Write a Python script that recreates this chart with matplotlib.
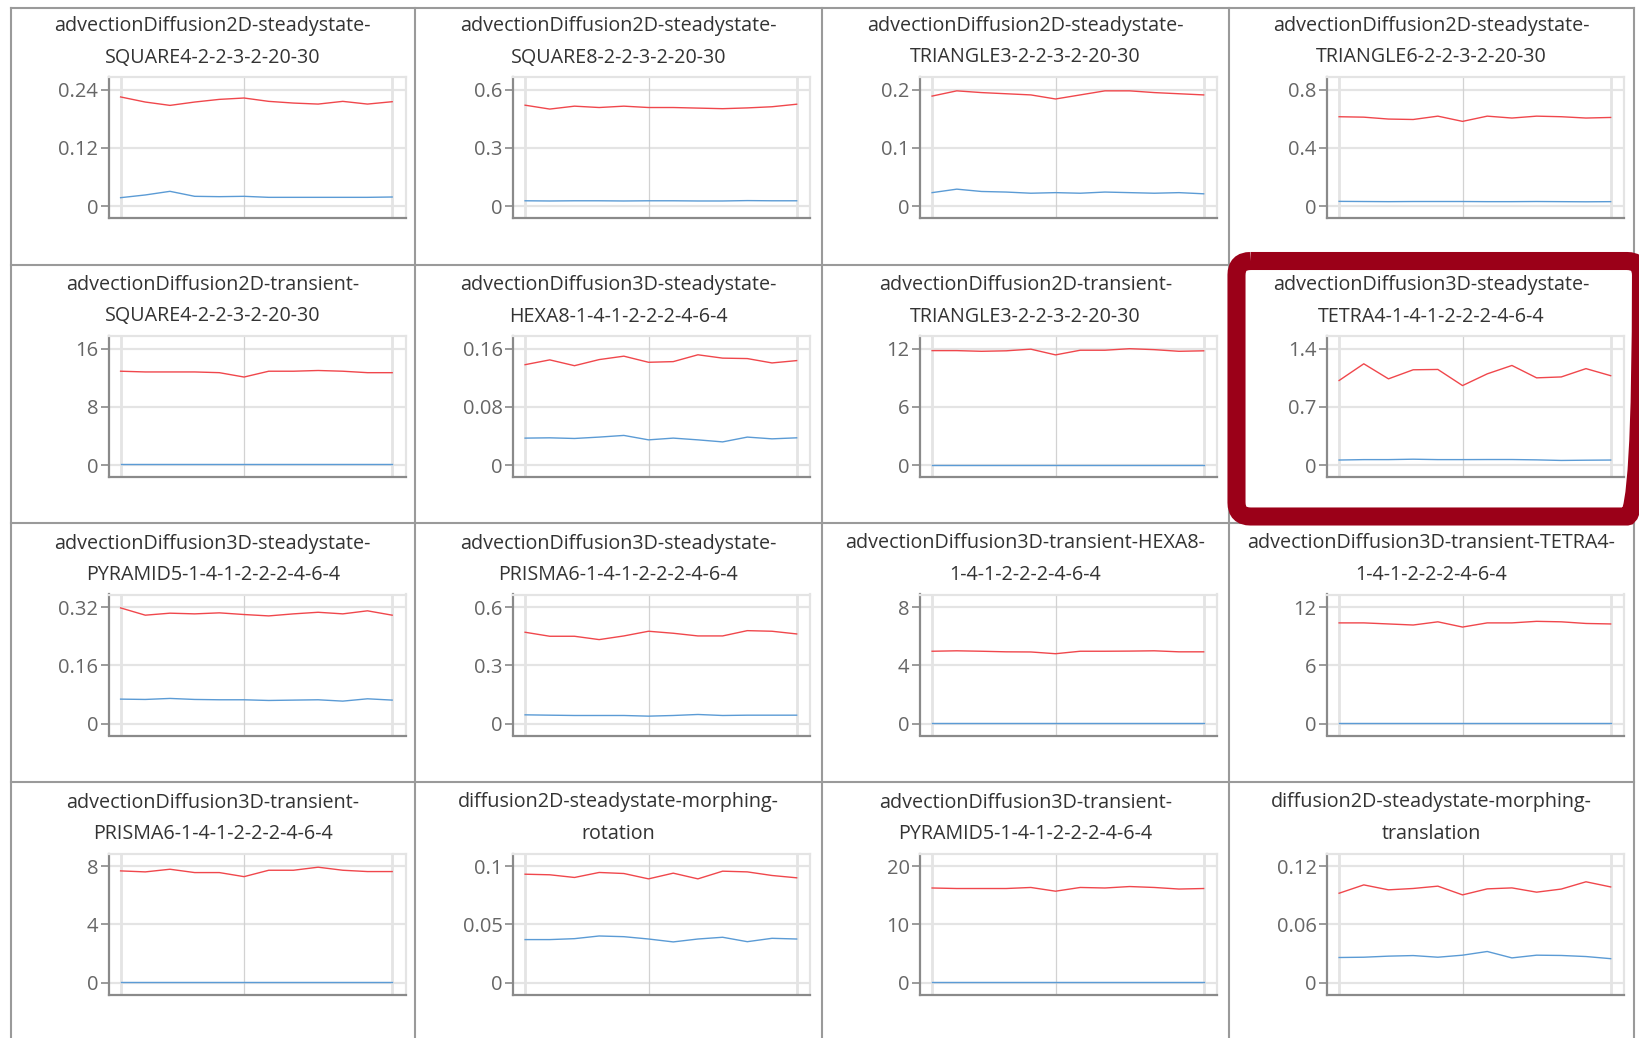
import matplotlib
matplotlib.use("Agg")
import matplotlib.pyplot as plt
from matplotlib.patches import FancyBboxPatch

plt.rcParams['font.family'] = ['Open Sans', 'DejaVu Sans']

W, H = 1639, 1038

# chart titles, row by row (two lines each, as wrapped in the picture)
titles = [
    ("advectionDiffusion2D-steadystate-", "SQUARE4-2-2-3-2-20-30"),
    ("advectionDiffusion2D-steadystate-", "SQUARE8-2-2-3-2-20-30"),
    ("advectionDiffusion2D-steadystate-", "TRIANGLE3-2-2-3-2-20-30"),
    ("advectionDiffusion2D-steadystate-", "TRIANGLE6-2-2-3-2-20-30"),
    ("advectionDiffusion2D-transient-", "SQUARE4-2-2-3-2-20-30"),
    ("advectionDiffusion3D-steadystate-", "HEXA8-1-4-1-2-2-2-4-6-4"),
    ("advectionDiffusion2D-transient-", "TRIANGLE3-2-2-3-2-20-30"),
    ("advectionDiffusion3D-steadystate-", "TETRA4-1-4-1-2-2-2-4-6-4"),
    ("advectionDiffusion3D-steadystate-", "PYRAMID5-1-4-1-2-2-2-4-6-4"),
    ("advectionDiffusion3D-steadystate-", "PRISMA6-1-4-1-2-2-2-4-6-4"),
    ("advectionDiffusion3D-transient-HEXA8-", "1-4-1-2-2-2-4-6-4"),
    ("advectionDiffusion3D-transient-TETRA4-", "1-4-1-2-2-2-4-6-4"),
    ("advectionDiffusion3D-transient-", "PRISMA6-1-4-1-2-2-2-4-6-4"),
    ("diffusion2D-steadystate-morphing-", "rotation"),
    ("advectionDiffusion3D-transient-", "PYRAMID5-1-4-1-2-2-2-4-6-4"),
    ("diffusion2D-steadystate-morphing-", "translation"),
]

# top tick value of each chart (ticks are 0, half, top)
ymax = [0.24, 0.6, 0.2, 0.8,
        16, 0.16, 12, 1.4,
        0.32, 0.6, 8, 12,
        8, 0.1, 20, 0.12]

red = [
    [0.225, 0.2145, 0.2076, 0.2145, 0.220, 0.2228, 0.2159, 0.2124, 0.2103, 0.2159, 0.2103, 0.2152],
    [0.52, 0.50, 0.515, 0.508, 0.515, 0.508, 0.508, 0.505, 0.502, 0.506, 0.512, 0.525],
    [0.189, 0.198, 0.195, 0.193, 0.191, 0.184, 0.191, 0.198, 0.198, 0.195, 0.193, 0.191],
    [0.614, 0.611, 0.598, 0.595, 0.618, 0.582, 0.618, 0.605, 0.618, 0.614, 0.605, 0.609],
    [12.9, 12.8, 12.8, 12.8, 12.7, 12.1, 12.9, 12.9, 13.0, 12.9, 12.7, 12.7],
    [0.138, 0.1446, 0.1366, 0.145, 0.1497, 0.1413, 0.1422, 0.1516, 0.147, 0.1464, 0.1404, 0.1436],
    [11.8, 11.8, 11.73, 11.78, 11.95, 11.36, 11.84, 11.84, 12.0, 11.9, 11.73, 11.78],
    [1.017, 1.218, 1.037, 1.146, 1.15, 0.956, 1.097, 1.198, 1.049, 1.06, 1.16, 1.075],
    [0.318, 0.298, 0.3035, 0.3016, 0.3044, 0.2998, 0.296, 0.3016, 0.306, 0.3016, 0.31, 0.298],
    [0.4707, 0.45, 0.45, 0.4328, 0.4517, 0.4759, 0.4655, 0.4517, 0.4517, 0.479, 0.4759, 0.462],
    [4.97, 5.0, 4.97, 4.93, 4.92, 4.8, 4.97, 4.97, 4.98, 5.0, 4.93, 4.93],
    [10.38, 10.38, 10.27, 10.16, 10.49, 9.95, 10.38, 10.38, 10.54, 10.49, 10.32, 10.27],
    [7.676, 7.607, 7.79, 7.56, 7.56, 7.28, 7.72, 7.72, 7.93, 7.72, 7.63, 7.63],
    [0.0931, 0.0926, 0.0903, 0.0946, 0.0937, 0.0891, 0.094, 0.0891, 0.0957, 0.0951, 0.092, 0.090],
    [16.25, 16.16, 16.16, 16.16, 16.34, 15.7, 16.34, 16.25, 16.5, 16.34, 16.07, 16.16],
    [0.0921, 0.1007, 0.0956, 0.097, 0.0994, 0.0904, 0.0966, 0.0976, 0.0932, 0.0964, 0.1039, 0.0986],
]

blue = [
    [0.0172, 0.0228, 0.0303, 0.020, 0.0193, 0.020, 0.0179, 0.0179, 0.0179, 0.0179, 0.0179, 0.0186],
    [0.027, 0.026, 0.027, 0.027, 0.026, 0.027, 0.027, 0.026, 0.026, 0.028, 0.027, 0.027],
    [0.023, 0.029, 0.025, 0.024, 0.022, 0.023, 0.022, 0.024, 0.023, 0.022, 0.023, 0.021],
    [0.032, 0.031, 0.030, 0.031, 0.031, 0.031, 0.030, 0.030, 0.031, 0.030, 0.029, 0.030],
    [0.1, 0.1, 0.1, 0.1, 0.1, 0.1, 0.1, 0.1, 0.1, 0.1, 0.1, 0.1],
    [0.037, 0.0374, 0.0365, 0.0384, 0.0407, 0.0346, 0.037, 0.0346, 0.0318, 0.0384, 0.036, 0.0374],
    [0.05, 0.05, 0.05, 0.05, 0.05, 0.05, 0.05, 0.05, 0.05, 0.05, 0.05, 0.05],
    [0.06, 0.065, 0.065, 0.07, 0.065, 0.065, 0.066, 0.066, 0.062, 0.055, 0.058, 0.06],
    [0.0671, 0.0662, 0.069, 0.0662, 0.0653, 0.0653, 0.0634, 0.0644, 0.0653, 0.0616, 0.068, 0.0644],
    [0.0448, 0.043, 0.0414, 0.0414, 0.0414, 0.038, 0.0414, 0.0466, 0.0414, 0.043, 0.043, 0.043],
    [0.02, 0.02, 0.02, 0.02, 0.02, 0.02, 0.02, 0.02, 0.02, 0.02, 0.02, 0.02],
    [0.05, 0.05, 0.05, 0.05, 0.05, 0.05, 0.05, 0.05, 0.05, 0.05, 0.05, 0.05],
    [0.03, 0.03, 0.03, 0.03, 0.03, 0.03, 0.03, 0.03, 0.03, 0.03, 0.03, 0.03],
    [0.0369, 0.0369, 0.0377, 0.040, 0.0394, 0.0374, 0.0349, 0.0374, 0.0389, 0.0351, 0.038, 0.0374],
    [0.05, 0.05, 0.05, 0.05, 0.05, 0.05, 0.05, 0.05, 0.05, 0.05, 0.05, 0.05],
    [0.0258, 0.0261, 0.0272, 0.0278, 0.0261, 0.0282, 0.032, 0.0254, 0.0282, 0.0279, 0.0268, 0.0246],
]

x = list(range(12))

# layout in pixels
col_left = [10.5, 415, 822, 1229]
row_top = [8, 264.5, 523, 782]
cell_right = 1634

fig = plt.figure(figsize=(W / 100, H / 100), dpi=100)
fig.patch.set_facecolor('white')

spine_c = '#8a8a8a'
grid_c = '#e4e4e4'

for i in range(16):
    r, c = divmod(i, 4)
    l = col_left[c] + 98
    t = row_top[r] + 69 + (2.5 if r > 0 else 0)
    w, h = 297, 141
    ax = fig.add_axes([l / W, 1 - (t + h) / H, w / W, h / H])
    ym = ymax[i]
    ax.plot(x, red[i], color='#f0474c', lw=1.0, zorder=3)
    ax.plot(x, blue[i], color='#5b9bd5', lw=1.0, zorder=3)
    ax.set_ylim(-0.103 * ym, 1.109 * ym)
    ax.set_xlim(-0.49, 11.54)
    ticks = [0, ym / 2, ym]
    ax.set_yticks(ticks)
    ax.set_yticklabels(['{:g}'.format(round(v, 6)) for v in ticks])
    ax.set_xticks([])
    for v in ticks:
        ax.axhline(v, color=grid_c, lw=1.6, zorder=1)
    ax.axvline(0, color=grid_c, lw=2.0, zorder=1)
    ax.axvline(11, color=grid_c, lw=2.0, zorder=1)
    ax.axvline(5, color='#d2d2d2', lw=0.9, zorder=1)
    ax.tick_params(axis='y', length=5.5, width=1.2, color=spine_c,
                   labelsize=14.5, labelcolor='#666666', pad=2)
    for s in ['left', 'bottom']:
        ax.spines[s].set_color(spine_c)
        ax.spines[s].set_linewidth(1.6)
    for s in ['top', 'right']:
        ax.spines[s].set_color(grid_c)
        ax.spines[s].set_linewidth(1.6)

# overlay in pixel coordinates for cell borders, titles and the highlight
ov = fig.add_axes([0, 0, 1, 1], zorder=10)
ov.set_xlim(0, W)
ov.set_ylim(H, 0)
ov.axis('off')
ov.patch.set_alpha(0)

for xl in col_left + [cell_right]:
    ov.plot([xl, xl], [row_top[0], H], color='#9a9a9a', lw=1.5)
for yt in row_top:
    ov.plot([col_left[0], cell_right], [yt, yt], color='#9a9a9a', lw=1.5)

for i in range(16):
    r, c = divmod(i, 4)
    right = col_left[c + 1] if c < 3 else cell_right
    cx = (col_left[c] + right) / 2
    dy = 2.5 if r > 0 else 0
    ov.text(cx, row_top[r] + 18 + dy, titles[i][0], ha='center', va='center',
            fontsize=14.2, color='#333333')
    ov.text(cx, row_top[r] + 49.5 + dy, titles[i][1], ha='center', va='center',
            fontsize=14.2, color='#333333')

box = FancyBboxPatch((1236.5, 261), 1641 - 1236.5, 516.5 - 261,
                     boxstyle='round,pad=0,rounding_size=14',
                     fill=False, edgecolor='#9b0018', lw=13, zorder=20)
ov.add_patch(box)

fig.savefig('out.png', dpi=100)
